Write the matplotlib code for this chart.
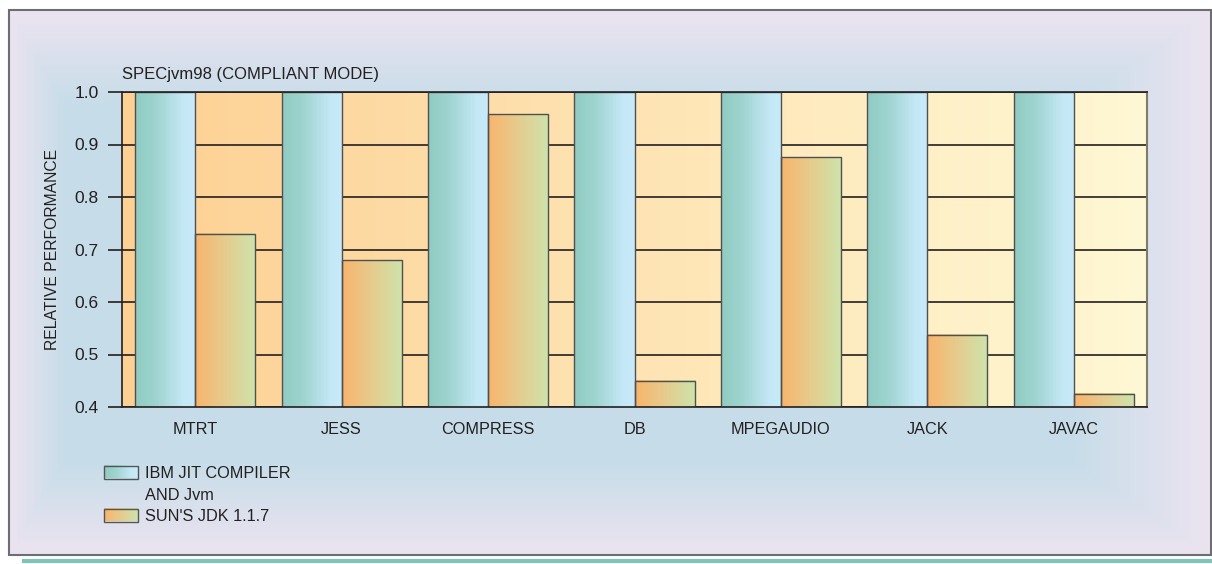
import numpy as np
import matplotlib
matplotlib.use("Agg")
import matplotlib.pyplot as plt
from matplotlib.colors import LinearSegmentedColormap, to_rgb
from matplotlib.patches import Rectangle

plt.rcParams['font.family'] = ['Liberation Sans', 'DejaVu Sans']

# data
benchmarks = ['MTRT', 'JESS', 'COMPRESS', 'DB', 'MPEGAUDIO', 'JACK', 'JAVAC']
ibm_jit = [1.0, 1.0, 1.0, 1.0, 1.0, 1.0, 1.0]
sun_jdk = [0.73, 0.68, 0.958, 0.45, 0.876, 0.538, 0.425]
yticks = [0.4, 0.5, 0.6, 0.7, 0.8, 0.9, 1.0]
series_labels = ['IBM JIT COMPILER\nAND Jvm', "SUN'S JDK 1.1.7"]
title = 'SPECjvm98 (COMPLIANT MODE)'
ylabel = 'RELATIVE PERFORMANCE'

INK = '#231F20'
W, H = 1212, 564

ibm_cmap = LinearSegmentedColormap.from_list(
    'ibm', [(0, '#8FCBC2'), (0.35, '#9FD4D0'), (0.8, '#C5E8F7'), (1, '#C8EAF9')])
sun_cmap = LinearSegmentedColormap.from_list(
    'sun', [(0, '#F9B46C'), (0.5, '#E5CC8E'), (1, '#CDE4AC')])
plot_cmap = LinearSegmentedColormap.from_list(
    'plotbg', [(0, '#FDD093'), (1, '#FFF8D4')])
ramp = np.linspace(0, 1, 256)[None, :]


def gradient(ax, x0, x1, y0, y1, cmap, zorder):
    ax.imshow(ramp, cmap=cmap, extent=(x0, x1, y0, y1), aspect='auto',
              interpolation='bicubic', zorder=zorder)


fig = plt.figure(figsize=(W / 100, H / 100), dpi=100)

# background frame (pixel coordinates)
bg = fig.add_axes([0, 0, 1, 1])
bg.axis('off')
fx0, fx1, fy0, fy1 = 9, 1211, 10, 555
xx, yy = np.meshgrid(np.arange(fx0, fx1), np.arange(fy0, fy1))
t = np.minimum.reduce([(xx - fx0) / 55, (fx1 - xx) / 140,
                       (yy - fy0) / 95, (fy1 - yy) / 95])
t = np.clip(t, 0, 1)[..., None]
lav, blue = np.array(to_rgb('#ECE4F0')), np.array(to_rgb('#C6DDE9'))
bg.imshow(lav + (blue - lav) * t, extent=(fx0, fx1, fy1, fy0),
          aspect='auto', zorder=0)
bg.add_patch(Rectangle((fx0, fy0), fx1 - fx0, fy1 - fy0, fill=False,
                       ec='#6D6E71', lw=1.5, zorder=2))
bg.plot([22, W], [561, 561], color='#7FC4B5', lw=3, solid_capstyle='butt')

# legend
for (sy, cmap, label) in [(466, ibm_cmap, series_labels[0]),
                          (509, sun_cmap, series_labels[1])]:
    gradient(bg, 104, 138, sy + 12.5, sy, cmap, 3)
    bg.add_patch(Rectangle((104, sy), 34, 12.5, fill=False, ec='#555555',
                           lw=1, zorder=4))
    for i, line in enumerate(label.split('\n')):
        bg.text(145, sy + 12 + 22 * i, line, fontsize=11.7, color=INK,
                va='baseline')
bg.set_xlim(0, W)
bg.set_ylim(H, 0)

# main plot
ax = fig.add_axes([122 / W, 1 - 407 / H, (1147 - 122) / W, (407 - 92) / H])
x = np.arange(len(benchmarks))
w = 0.41
ibm_bars = ax.bar(x - w / 2, ibm_jit, w, ec='#505050', lw=1)
sun_bars = ax.bar(x + w / 2, sun_jdk, w, ec='#505050', lw=1)
for bars, cmap in [(ibm_bars, ibm_cmap), (sun_bars, sun_cmap)]:
    for p in bars:
        x0, y0 = p.get_x(), p.get_y()
        gradient(ax, x0, x0 + p.get_width(), y0, y0 + p.get_height(), cmap, 2)
        p.set_facecolor('none')
        p.set_zorder(2.5)

xlim = (-0.5, len(benchmarks) - 0.5)
ylim = (yticks[0], yticks[-1])
gradient(ax, xlim[0], xlim[1], ylim[0], ylim[1], plot_cmap, 0)
ax.set_xlim(xlim)
ax.set_ylim(ylim)
for yv in yticks:
    ax.axhline(yv, color=INK, lw=1.2, zorder=1)

ax.set_yticks(yticks, [f'{v:.1f}' for v in yticks])
ax.set_xticks(x, benchmarks)
ax.tick_params(axis='y', length=10, width=1.2, pad=7, labelsize=12.5,
               colors=INK)
ax.tick_params(axis='x', length=0, pad=10.5, labelsize=11.7, colors=INK)
for s in ['left', 'bottom', 'top']:
    ax.spines[s].set_color(INK)
    ax.spines[s].set_linewidth(1.2)
ax.spines['right'].set_color('#7F7B6A')
ax.spines['right'].set_linewidth(1.5)

ax.set_title(title, loc='left', fontsize=12, color=INK, pad=9)
ax.set_ylabel(ylabel, fontsize=11.3, color=INK, labelpad=10)

fig.savefig('out.png', dpi=100)
